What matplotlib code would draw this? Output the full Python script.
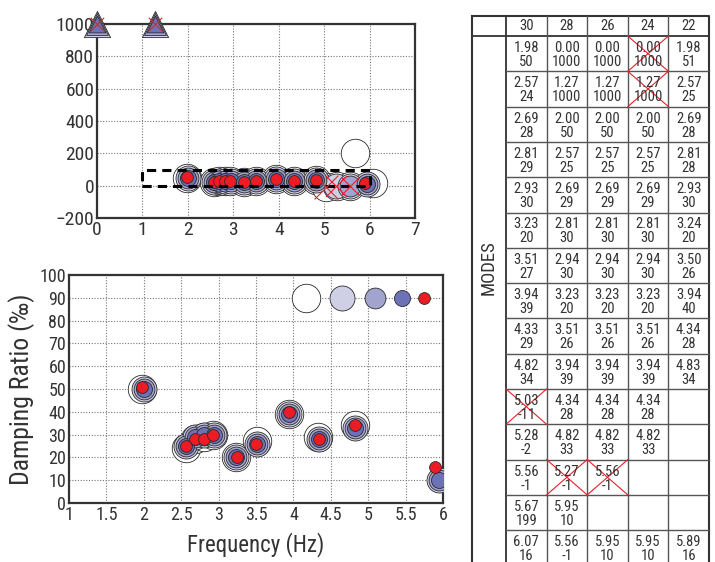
import matplotlib.pyplot as plt
from matplotlib.patches import Rectangle

plt.rcParams['font.family'] = ['Roboto Condensed', 'DejaVu Sans']

# model orders (table columns) and identified modes: frequency (Hz) / damping (per mille)
orders = [30, 28, 26, 24, 22]
freq_30 = [1.98, 2.57, 2.69, 2.81, 2.93, 3.23, 3.51, 3.94, 4.33, 4.82, 5.03, 5.28, 5.56, 5.67, 6.07]
damp_30 = [50, 24, 28, 29, 30, 20, 27, 39, 29, 34, -11, -2, -1, 199, 16]
freq_28 = [0.00, 1.27, 2.00, 2.57, 2.69, 2.81, 2.94, 3.23, 3.51, 3.94, 4.34, 4.82, 5.27, 5.95, 5.56]
damp_28 = [1000, 1000, 50, 25, 29, 30, 30, 20, 26, 39, 28, 33, -1, 10, -1]
freq_26 = [0.00, 1.27, 2.00, 2.57, 2.69, 2.81, 2.94, 3.23, 3.51, 3.94, 4.34, 4.82, 5.56, None, 5.95]
damp_26 = [1000, 1000, 50, 25, 29, 30, 30, 20, 26, 39, 28, 33, -1, None, 10]
freq_24 = [0.00, 1.27, 2.00, 2.57, 2.69, 2.81, 2.94, 3.23, 3.51, 3.94, 4.34, 4.82, None, None, 5.95]
damp_24 = [1000, 1000, 50, 25, 29, 30, 30, 20, 26, 39, 28, 33, None, None, 10]
freq_22 = [1.98, 2.57, 2.69, 2.81, 2.93, 3.24, 3.50, 3.94, 4.34, 4.83, None, None, None, None, 5.89]
damp_22 = [51, 25, 28, 28, 30, 20, 26, 40, 28, 34, None, None, None, None, 16]
# rejected modes (order, row)
crossed = [(30, 10), (28, 12), (26, 12), (24, 0), (24, 1)]

# size legend drawn in the lower plot
legend_x = [4.17, 4.65, 5.09, 5.45, 5.75]
legend_y = 90

freqs = [freq_30, freq_28, freq_26, freq_24, freq_22]
damps = [damp_30, damp_28, damp_26, damp_24, damp_22]

sizes = [20.5, 18, 15, 11.5, 8.5]
colors = ['#ffffff', '#cfcfe6', '#a3a3cf', '#6c72b5', '#ed1c24']
edge = '#2a2a2a'
zoom_x = (1, 6)
zoom_y = (0, 100)

fig = plt.figure(figsize=(7.15, 5.62), dpi=100)

# ---- top: full stabilization diagram
ax1 = fig.add_axes([97 / 715, 1 - 218 / 562, 318 / 715, 194 / 562])
ax1.set_xlim(0, 7)
ax1.set_ylim(-200, 1000)
ax1.set_xticks(range(0, 8))
ax1.set_yticks(range(-200, 1001, 200))
for k, order in enumerate(orders):
    for i, (f, d) in enumerate(zip(freqs[k], damps[k])):
        if f is None:
            continue
        if d >= 1000:
            ax1.scatter(f, 1000, s=sizes[k] ** 2 * 1.1, marker='^', c=colors[k],
                        edgecolors=edge, linewidths=0.6, zorder=3 + k, clip_on=False)
        else:
            ax1.scatter(f, d, s=sizes[k] ** 2, c=colors[k], edgecolors=edge,
                        linewidths=0.6, zorder=3 + k)
        if (order, i) in crossed:
            ax1.scatter(f, min(d, 1000), s=sizes[k] ** 2 * 0.7, marker='x', c='#e8202a',
                        linewidths=0.8, zorder=12, clip_on=False)
ax1.add_patch(Rectangle((zoom_x[0], zoom_y[0]), zoom_x[1] - zoom_x[0], zoom_y[1] - zoom_y[0],
                        fill=False, ls=(0, (3, 2)), lw=2.2, ec='black', zorder=11))

# ---- bottom: zoom on the physical modes
ax2 = fig.add_axes([69 / 715, 1 - 503 / 562, 374 / 715, 228 / 562])
ax2.set_xlim(*zoom_x)
ax2.set_ylim(*zoom_y)
ax2.set_xticks([1, 1.5, 2, 2.5, 3, 3.5, 4, 4.5, 5, 5.5, 6])
ax2.set_xticklabels(['1', '1.5', '2', '2.5', '3', '3.5', '4', '4.5', '5', '5.5', '6'])
ax2.set_yticks(range(0, 101, 10))
for k, order in enumerate(orders):
    for i, (f, d) in enumerate(zip(freqs[k], damps[k])):
        if f is None or (order, i) in crossed:
            continue
        if not (zoom_x[0] <= f <= zoom_x[1] and zoom_y[0] < d <= zoom_y[1]):
            continue
        ax2.scatter(f, d, s=sizes[k] ** 2, c=colors[k], edgecolors=edge,
                    linewidths=0.6, zorder=3 + k)
    ax2.scatter(legend_x[k], legend_y, s=sizes[k] ** 2, c=colors[k], edgecolors=edge,
                linewidths=0.6, zorder=3 + k)
ax2.set_xlabel('Frequency (Hz)', fontsize=16.5, color='#333333', labelpad=6)
ax2.set_ylabel('Damping Ratio (‰)', fontsize=18.5, color='#333333', labelpad=3)

for ax in (ax1, ax2):
    ax.grid(True, ls=(0, (1, 1.5)), color='#777777', lw=0.8)
    ax.set_axisbelow(True)
    ax.tick_params(length=0, pad=2, labelsize=14, colors='#333333')
    for sp in ax.spines.values():
        sp.set_linewidth(1.6)
        sp.set_color('#333333')
ax2.tick_params(labelsize=13)

# ---- table of modes
tab = fig.add_axes([0, 0, 1, 1], zorder=-1)
tab.set_xlim(0, 715)
tab.set_ylim(562, 0)
tab.axis('off')
left, lab_right, right = 472, 506, 709
col_w = (right - lab_right) / len(orders)
top, head_bot, row_h = 16, 36, 35.3
n_rows = len(freq_30)
bottom = head_bot + n_rows * row_h
line_c = '#555555'
txt_c = '#333333'

tab.plot([left, right, right, left, left], [top, top, bottom, bottom, top],
         color='#333333', lw=1.5, clip_on=False)
tab.plot([left, right], [head_bot, head_bot], color='#333333', lw=1.3)
tab.plot([lab_right, lab_right], [top, bottom], color='#333333', lw=1.3)
for j in range(1, len(orders)):
    x = lab_right + j * col_w
    tab.plot([x, x], [top, bottom], color=line_c, lw=1)
for i in range(1, n_rows):
    y = head_bot + i * row_h
    tab.plot([lab_right, right], [y, y], color=line_c, lw=1)
for j, order in enumerate(orders):
    cx = lab_right + (j + 0.5) * col_w
    tab.text(cx, (top + head_bot) / 2, str(order), ha='center', va='center',
             fontsize=10.5, color=txt_c)
    for i in range(n_rows):
        f, d = freqs[j][i], damps[j][i]
        y0 = head_bot + i * row_h
        if f is None:
            continue
        tab.text(cx, y0 + 12, f'{f:.2f}', ha='center', va='center', fontsize=10.5, color=txt_c)
        tab.text(cx, y0 + 26, f'{d:d}', ha='center', va='center', fontsize=10.5, color=txt_c)
        if (order, i) in crossed:
            x0, x1 = cx - col_w / 2, cx + col_w / 2
            tab.plot([x0, x1], [y0, y0 + row_h], color='#e8202a', lw=0.8)
            tab.plot([x0, x1], [y0 + row_h, y0], color='#e8202a', lw=0.8)
tab.text((left + lab_right) / 2, 268, 'MODES', rotation=90, ha='center', va='center',
         fontsize=13.5, color=txt_c)

fig.savefig('out.png', dpi=100)
